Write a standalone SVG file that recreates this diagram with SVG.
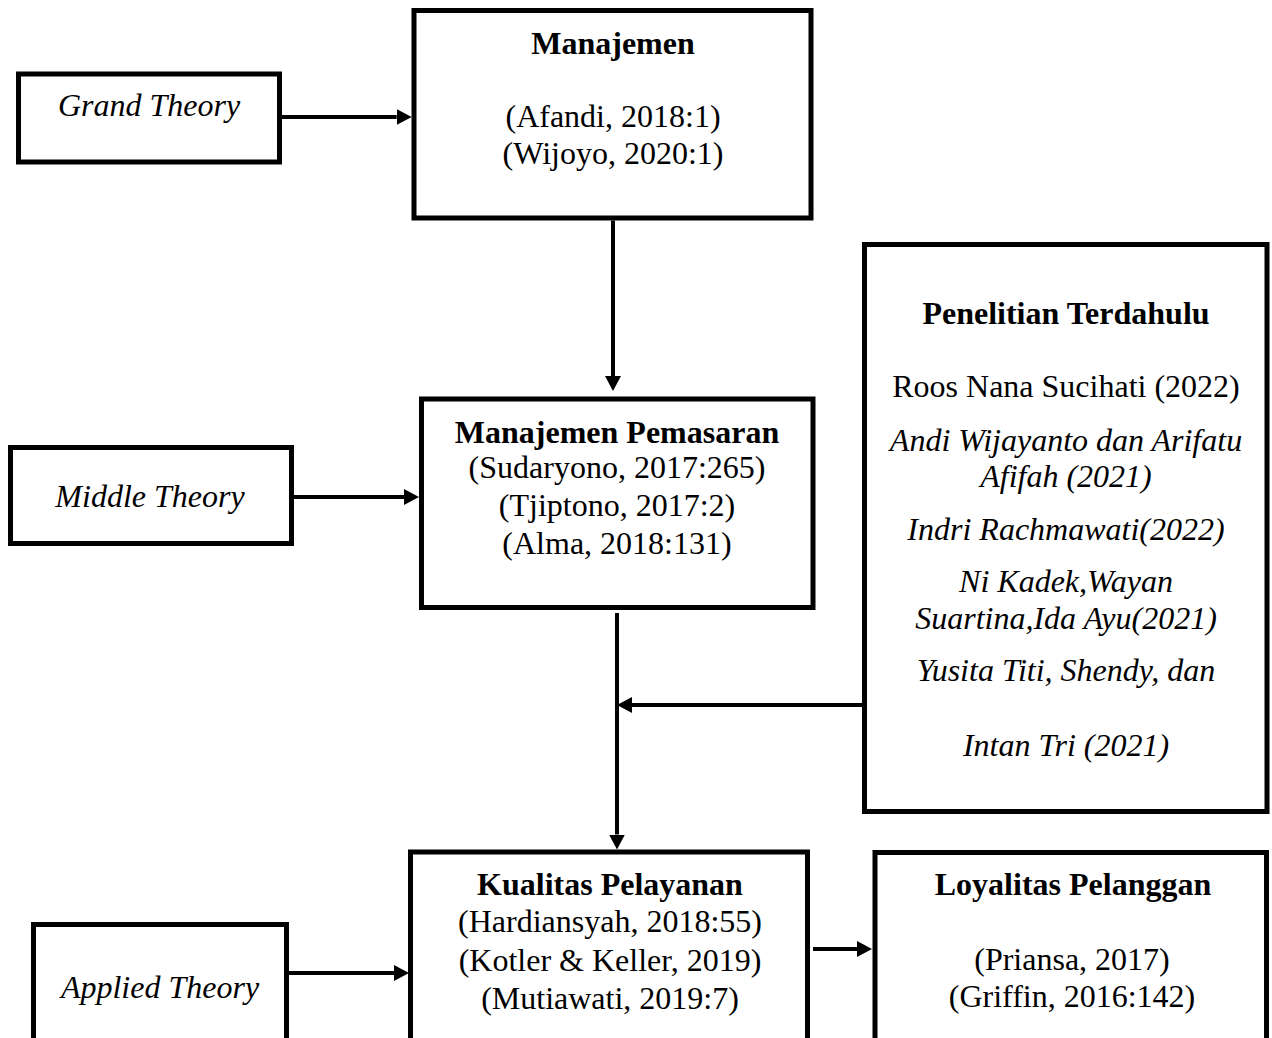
<svg xmlns="http://www.w3.org/2000/svg" width="1272" height="1038" viewBox="0 0 1272 1038">
  <style>
    .box { fill: #ffffff; stroke: #000000; stroke-width: 5; }
    .t { font-family: "Liberation Serif", "Times New Roman", serif; font-size: 32px; fill: #000000; text-anchor: middle; }
    .b { font-weight: bold; }
    .i { font-style: italic; }
    .c { stroke: #000000; stroke-width: 4; fill: none; marker-end: url(#ah); }
  </style>
  <defs>
    <marker id="ah" viewBox="0 0 15 16" refX="0" refY="8" markerWidth="15" markerHeight="16" markerUnits="userSpaceOnUse" orient="auto">
      <polygon points="0,0 15,8 0,16" fill="#000000"/>
    </marker>
  </defs>
  <rect width="1272" height="1038" fill="#ffffff"/>

  <g id="grand-theory">
    <rect class="box" x="18.5" y="74" width="261" height="88"/>
    <text class="t i" x="149" y="116">Grand Theory</text>
  </g>

  <g id="manajemen">
    <rect class="box" x="414" y="10.5" width="397" height="207.5"/>
    <text class="t b" x="613" y="54">Manajemen</text>
    <text class="t" x="613" y="127">(Afandi, 2018:1)</text>
    <text class="t" x="613" y="164">(Wijoyo, 2020:1)</text>
  </g>

  <g id="middle-theory">
    <rect class="box" x="10.5" y="447.5" width="281" height="96"/>
    <text class="t i" x="150" y="507">Middle Theory</text>
  </g>

  <g id="manajemen-pemasaran">
    <rect class="box" x="421.5" y="399" width="391.5" height="208.5"/>
    <text class="t b" x="617" y="443">Manajemen Pemasaran</text>
    <text class="t" x="617" y="478">(Sudaryono, 2017:265)</text>
    <text class="t" x="617" y="516">(Tjiptono, 2017:2)</text>
    <text class="t" x="617" y="554">(Alma, 2018:131)</text>
  </g>

  <g id="penelitian-terdahulu">
    <rect class="box" x="864.5" y="244.5" width="402.5" height="567"/>
    <text class="t b" x="1066" y="324">Penelitian Terdahulu</text>
    <text class="t" x="1066" y="397">Roos Nana Sucihati (2022)</text>
    <text class="t i" x="1066" y="451">Andi Wijayanto dan Arifatu</text>
    <text class="t i" x="1066" y="487">Afifah (2021)</text>
    <text class="t i" x="1066" y="540">Indri Rachmawati(2022)</text>
    <text class="t i" x="1066" y="592">Ni Kadek,Wayan</text>
    <text class="t i" x="1066" y="629">Suartina,Ida Ayu(2021)</text>
    <text class="t i" x="1066" y="681">Yusita Titi, Shendy, dan</text>
    <text class="t i" x="1066" y="756">Intan Tri (2021)</text>
  </g>

  <g id="applied-theory">
    <rect class="box" x="33.5" y="924.5" width="253" height="130"/>
    <text class="t i" x="160" y="998">Applied Theory</text>
  </g>

  <g id="kualitas-pelayanan">
    <rect class="box" x="410.5" y="852" width="397" height="200"/>
    <text class="t b" x="610" y="895">Kualitas Pelayanan</text>
    <text class="t" x="610" y="932">(Hardiansyah, 2018:55)</text>
    <text class="t" x="610" y="971">(Kotler &amp; Keller, 2019)</text>
    <text class="t" x="610" y="1009">(Mutiawati, 2019:7)</text>
  </g>

  <g id="loyalitas-pelanggan">
    <rect class="box" x="875" y="852.5" width="391.5" height="200"/>
    <text class="t b" x="1073" y="895">Loyalitas Pelanggan</text>
    <text class="t" x="1072" y="970">(Priansa, 2017)</text>
    <text class="t" x="1072" y="1007">(Griffin, 2016:142)</text>
  </g>

  <g id="connectors">
    <line class="c" x1="282" y1="117" x2="396.7" y2="117"/>
    <line class="c" x1="613" y1="220.5" x2="613" y2="376"/>
    <line class="c" x1="294" y1="497" x2="404" y2="497"/>
    <line class="c" x1="617" y1="613" x2="617" y2="834.5"/>
    <line class="c" x1="862" y1="705" x2="632" y2="705"/>
    <line class="c" x1="289" y1="973" x2="394" y2="973"/>
    <line class="c" x1="813" y1="949" x2="857" y2="949"/>
  </g>
</svg>
